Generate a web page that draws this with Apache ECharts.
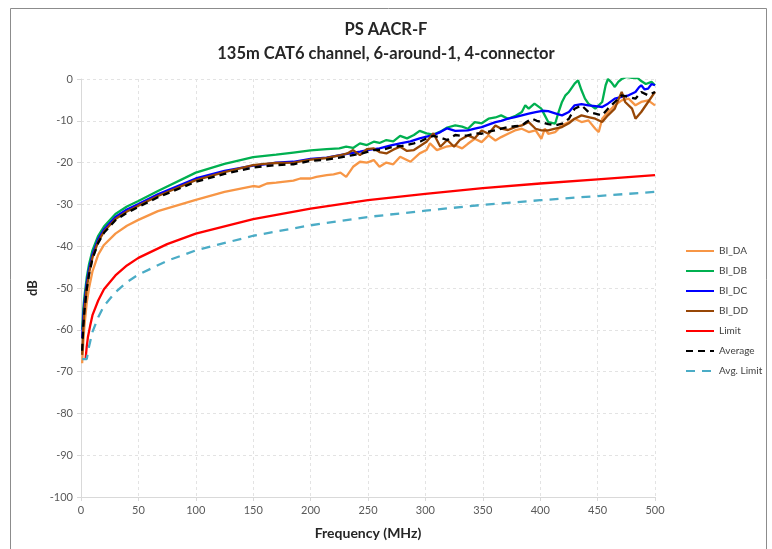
<!DOCTYPE html>
<html>
<head>
<meta charset="utf-8">
<script src="https://cdn.jsdelivr.net/npm/echarts@6/dist/echarts.min.js"></script>
<style>
  html, body { margin: 0; padding: 0; background: #fff; }
  #chart { width: 772px; height: 549px; }
</style>
</head>
<body>
<div id="chart"></div>
<script>
// values, [frequency MHz, dB]
const biDA = [
  [1,-68],[2,-63],[3,-59],[5,-53.5],[7,-50],[10,-46],[15,-42],[20,-39.7],[30,-37],[40,-35.1],
  [50,-33.7],[67,-31.6],[100,-28.9],[125,-27],[150,-25.6],[155,-25.8],[162,-25],[170,-24.8],
  [185,-24.3],[191,-23.8],[200,-23.8],[205,-23.4],[214,-23],[220,-22.8],[226,-22.4],[231,-23.4],
  [237,-21],[243,-19.8],[249,-20],[255,-19.4],[260,-21],[266,-20],[272,-20.4],[278,-18.6],
  [287,-19.8],[295,-17.8],[301,-17],[304,-15.4],[310,-17],[318,-16.2],[326,-15.9],[332,-16.6],
  [337,-15.5],[343,-14.3],[349,-15.1],[355,-13.5],[361,-14.7],[366,-13.9],[372,-13.1],[378,-12.3],
  [384,-11.9],[390,-12.7],[396,-12.3],[401,-14.3],[404,-11.9],[407,-13.1],[413,-12.7],[419,-11.1],
  [425,-10.3],[430,-9.5],[436,-10.3],[442,-9.9],[448,-11.9],[451,-12.7],[454,-9.5],[459,-7.9],
  [465,-6.3],[471,-5.1],[477,-4.7],[483,-6.3],[488,-5.5],[494,-5.1],[500,-6.3]
];
const biDB = [
  [1,-60],[2,-55],[3,-52],[5,-47.5],[7,-44.3],[10,-41],[15,-37.5],[20,-35.3],[30,-32.3],[40,-30.5],
  [50,-29.2],[67,-26.8],[100,-22.4],[125,-20.3],[150,-18.7],[160,-18.4],[170,-18.1],[185,-17.6],
  [200,-17.1],[214,-16.8],[225,-16.6],[231,-16.2],[237,-16.5],[243,-15.4],[249,-15.8],[255,-15],
  [260,-15.3],[266,-14.6],[272,-14.9],[278,-13.6],[284,-14.2],[290,-13.4],[295,-12.4],[301,-13],
  [307,-13.3],[313,-12.6],[319,-11.6],[326,-11.1],[332,-11.4],[337,-11.9],[343,-10.3],[349,-10.6],
  [355,-9.5],[361,-9.2],[366,-8.7],[372,-9.5],[378,-8.9],[384,-7.9],[387,-6.3],[390,-7.1],
  [395,-5.9],[401,-7.1],[404,-8.7],[407,-10.3],[413,-10.7],[416,-7.9],[419,-5.5],[422,-3.9],
  [425,-3.1],[427,-2.3],[430,-1.1],[433,-0.3],[436,-2.7],[439,-4.7],[442,-5.9],[448,-7.1],
  [454,-5.5],[457,-1.5],[459,0],[462,-0.8],[465,-1.9],[468,-0.7],[471,0],[475,0.5],[480,0.3],
  [485,0.2],[488,-0.5],[492,-1.2],[497,-0.7],[500,-1.5]
];
const biDC = [
  [1,-62],[2,-57],[3,-53.5],[5,-48.8],[7,-45.5],[10,-42],[15,-38.3],[20,-36],[30,-33],[40,-31.2],
  [50,-29.9],[67,-27.6],[100,-23.8],[125,-22],[150,-20.7],[160,-20.4],[170,-20],[185,-19.8],
  [200,-19.1],[214,-18.8],[228,-18.1],[243,-17.4],[252,-16.9],[260,-16.6],[270,-15.9],[278,-15.4],
  [287,-14.9],[295,-14.2],[301,-13.8],[307,-13.4],[313,-12.7],[319,-11.8],[326,-12.4],[337,-12.3],
  [343,-11.9],[349,-11.5],[355,-10.9],[361,-10.3],[366,-10],[372,-9.5],[378,-9.1],[384,-8.7],
  [390,-8.3],[396,-7.9],[402,-7.6],[407,-7.7],[413,-8.2],[419,-8.7],[425,-7.9],[430,-6.3],
  [436,-6],[442,-6.3],[448,-6.5],[454,-6.7],[459,-5.9],[465,-4.7],[471,-4.3],[477,-3.9],
  [483,-3.1],[486,-2],[488,-1.5],[491,-2.5],[494,-2.3],[497,-1.2],[500,-1.5]
];
const biDD = [
  [1,-66],[2,-59.5],[3,-55],[5,-50],[7,-46.5],[10,-42.7],[15,-38.9],[20,-36.5],[30,-33.5],[40,-31.7],
  [50,-30.3],[67,-28],[100,-24.2],[125,-22.3],[150,-20.6],[160,-20.3],[170,-20.1],[185,-20],
  [200,-19.3],[214,-18.9],[225,-18.3],[232,-17.8],[237,-17],[243,-18.2],[249,-16.8],[255,-16.6],
  [260,-17.5],[266,-17.8],[272,-16.9],[278,-16.2],[284,-17.2],[290,-17],[295,-16.1],[301,-15],
  [307,-13],[313,-16.2],[319,-14.6],[325,-16.2],[330,-14.6],[337,-13.5],[343,-14.2],[349,-12.3],
  [355,-13.1],[361,-11.1],[366,-11.9],[372,-12.2],[378,-11.5],[384,-11.1],[390,-10.3],[396,-11.9],
  [401,-12.3],[407,-12.3],[413,-11.9],[419,-11.5],[425,-10.6],[430,-9.5],[436,-8.7],[442,-9.1],
  [448,-9.5],[454,-10.3],[459,-8.7],[465,-7.1],[468,-5],[471,-3.1],[474,-5.5],[480,-7.1],
  [483,-9.5],[488,-7.9],[494,-5.5],[500,-3.1]
];
const limit = [
  [4,-67],[5,-64],[6,-61.8],[8,-59],[10,-56.5],[15,-53],[20,-50.3],[30,-47],[40,-44.6],[50,-42.8],
  [75,-39.5],[100,-37],[150,-33.5],[200,-31],[250,-29],[300,-27.5],[350,-26.1],[400,-25],
  [450,-24],[500,-23]
];
const average = [
  [1,-65],[2,-59],[3,-55.5],[5,-50.3],[7,-46.8],[10,-43],[15,-39.2],[20,-36.8],[30,-33.8],[40,-32],
  [50,-30.6],[67,-28.3],[100,-24.6],[125,-22.7],[150,-21.2],[160,-20.9],[170,-20.6],[185,-20.4],
  [200,-19.6],[214,-19.3],[225,-18.8],[237,-18.2],[245,-17.8],[255,-17],[263,-16.9],[272,-16.2],
  [280,-16],[290,-15.4],[296,-14.9],[301,-14.2],[307,-13.6],[313,-14],[319,-14.6],[326,-13.4],
  [332,-13.6],[337,-13.5],[343,-13],[349,-13.1],[355,-12.6],[361,-12.3],[367,-11.8],[372,-11.5],
  [378,-11.3],[384,-11.1],[388,-10.3],[393,-9.5],[397,-10],[401,-10.3],[407,-10.8],[413,-11.1],
  [419,-10.7],[425,-9.5],[430,-7.1],[436,-6.3],[442,-7.9],[448,-8.3],[454,-8.7],[459,-7.1],
  [465,-5.5],[471,-3.9],[477,-4.3],[483,-4.7],[488,-3.1],[494,-3.9],[500,-3.1]
];
const avgLimit = [
  [1,-67],[5,-67],[7,-64],[10,-60.5],[15,-57],[20,-54.3],[30,-51],[40,-48.6],[50,-46.8],[75,-43.5],
  [100,-41],[150,-37.5],[200,-35],[250,-33],[300,-31.5],[350,-30.1],[400,-29],[450,-28],[500,-27]
];

const seriesNames = ["BI_DA", "BI_DB", "BI_DC", "BI_DD", "Limit", "Average", "Avg. Limit"];
const seriesData = [biDA, biDB, biDC, biDD, limit, average, avgLimit];
const seriesColors = ["#F79646", "#00B050", "#0000FF", "#974706", "#FF0000", "#000000", "#4BACC6"];
const seriesDash = ["solid", "solid", "solid", "solid", "solid", [7, 5], [9, 7]];

const font = "Lato, 'Open Sans', sans-serif";
const chart = echarts.init(document.getElementById("chart"));

const series = seriesNames.map(function (name, i) {
  return {
    name: name,
    type: "line",
    data: seriesData[i],
    showSymbol: false,
    symbol: "none",
    clip: true,
    lineStyle: { color: seriesColors[i], width: 2.3, type: seriesDash[i] },
    itemStyle: { color: seriesColors[i] },
  };
});

chart.setOption({
  animation: false,
  backgroundColor: "#ffffff",
  textStyle: { fontFamily: font },
  graphic: [
    {
      type: "rect",
      shape: { x: 10.5, y: 8.5, width: 756, height: 600 },
      style: { fill: "none", stroke: "#8c8c8c", lineWidth: 1 },
      silent: true,
    },
  ],
  title: {
    text: "PS AACR-F\n135m CAT6 channel, 6-around-1, 4-connector",
    left: "center",
    top: 13,
    textStyle: {
      fontFamily: font,
      fontSize: 16.5,
      fontWeight: "bold",
      color: "#262626",
      lineHeight: 24,
    },
  },
  legend: {
    orient: "vertical",
    left: 680,
    top: 239,
    itemWidth: 28,
    itemHeight: 14,
    itemGap: 6,
    itemStyle: { opacity: 0 },
    textStyle: { fontFamily: font, fontSize: 10, color: "#404040", lineHeight: 14, height: 14 },
    data: seriesNames,
  },
  grid: { left: 81, right: 117, top: 79, bottom: 52, containLabel: false },
  xAxis: {
    type: "value",
    min: 0,
    max: 500,
    interval: 50,
    name: "Frequency (MHz)",
    nameLocation: "middle",
    nameGap: 29,
    nameTextStyle: { fontFamily: font, fontSize: 14, fontWeight: "bold", color: "#262626" },
    axisLine: { show: true, onZero: false, lineStyle: { color: "#d9d9d9", width: 1 } },
    axisTick: { show: true, length: 4, lineStyle: { color: "#d9d9d9" } },
    axisLabel: { fontFamily: font, fontSize: 11, color: "#595959", margin: 8 },
    splitLine: { show: true, lineStyle: { color: "#e3e3e3", type: [3, 3] } },
  },
  yAxis: {
    type: "value",
    min: -100,
    max: 0,
    interval: 10,
    name: "dB",
    nameLocation: "middle",
    nameGap: 41,
    nameRotate: 90,
    nameTextStyle: { fontFamily: font, fontSize: 13, fontWeight: "bold", color: "#262626" },
    axisLine: { show: true, lineStyle: { color: "#d9d9d9", width: 1 } },
    axisTick: { show: true, length: 4, lineStyle: { color: "#d9d9d9" } },
    axisLabel: { fontFamily: font, fontSize: 11, color: "#595959", margin: 8 },
    splitLine: { show: true, lineStyle: { color: "#e3e3e3", type: [3, 3] } },
  },
  series: series,
});
</script>
</body>
</html>
